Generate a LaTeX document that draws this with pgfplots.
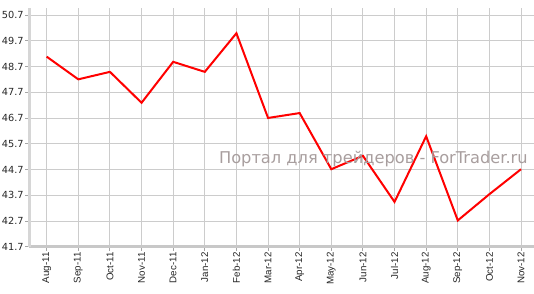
\documentclass[border=0pt]{standalone}
\usepackage{fontspec}
\setmainfont{DejaVu Sans}
\newfontfamily\xfont{Liberation Sans}
\usepackage{pgfplots}
\pgfplotsset{compat=1.18}
\definecolor{gridc}{HTML}{CCCCCC}
\definecolor{axc}{HTML}{C8C8C8}
\definecolor{wm}{HTML}{A89E9E}
\begin{document}
\begin{tikzpicture}
\begin{axis}[
  scale only axis, width=504.7bp, height=238.7bp,
  xmin=-0.55, xmax=15.41, ymin=41.7, ymax=50.97,
  axis lines*=left,
  axis line style={-},
  x axis line style={draw=axc, line width=3bp},
  y axis line style={draw=gridc!80, line width=3bp},
  grid=major,
  major grid style={draw=gridc, line width=0.9bp},
  xtick={0,...,15},
  xticklabels={Aug-11,Sep-11,Oct-11,Nov-11,Dec-11,Jan-12,Feb-12,Mar-12,Apr-12,May-12,Jun-12,Jul-12,Aug-12,Sep-12,Oct-12,Nov-12},
  ytick={41.7,42.7,43.7,44.7,45.7,46.7,47.7,48.7,49.7,50.7},
  yticklabels={41.7,42.7,43.7,44.7,45.7,46.7,47.7,48.7,49.7,50.7},
  tick align=outside,
  major tick length=4bp,
  tick style={draw=gray!70, line width=0.9bp},
  x tick label style={rotate=90, anchor=east, font=\xfont\fontsize{9.8}{10}\selectfont, text=black!85, inner sep=1.5bp},
  y tick label style={font=\fontsize{9.8}{10}\selectfont, text=black!85, inner sep=1.5bp},
  clip=false,
]
\addplot[red, line width=2bp, line join=miter] coordinates {
(0,49.08) (1,48.20) (2,48.49) (3,47.29) (4,48.88) (5,48.49) (6,49.99) (7,46.70)
(8,46.89) (9,44.71) (10,45.23) (11,43.44) (12,45.99) (13,42.72) (14,43.74) (15,44.71)
};
\node[anchor=base, text=wm, font=\fontsize{16.3}{18}\selectfont, inner sep=0pt] at (axis cs:10.33,44.93) {Портал для трейдеров - ForTrader.ru};
\end{axis}
\pgfresetboundingbox
\path ([xshift=-29.3bp,yshift=-46.3bp]current axis.south west) rectangle ([yshift=8bp]current axis.north east);
\end{tikzpicture}
\end{document}
